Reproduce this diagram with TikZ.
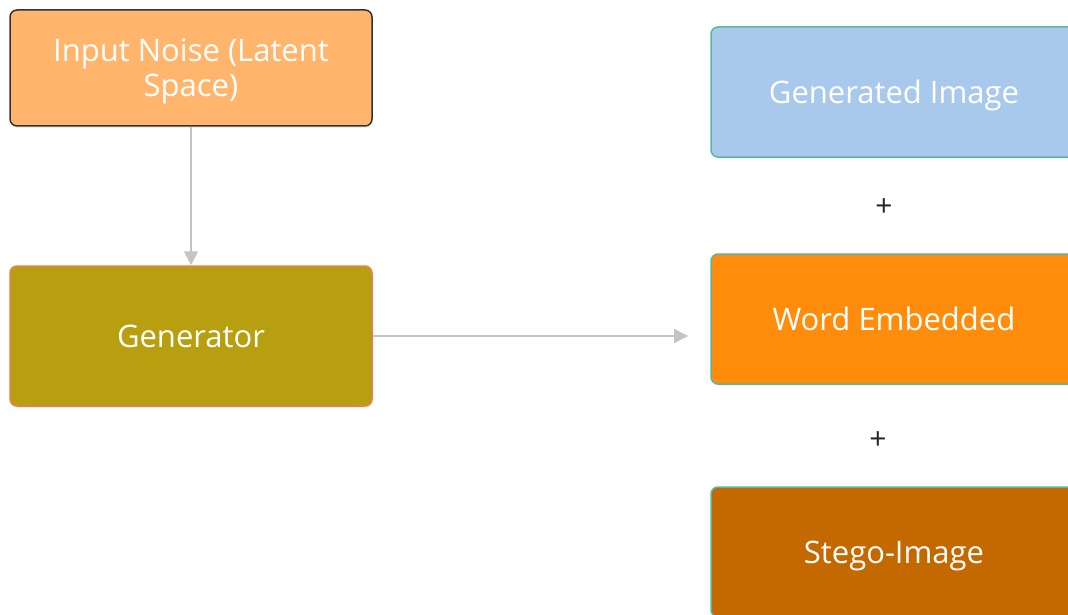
\documentclass[tikz,border=0pt]{standalone}
\usepackage{fontspec}
\setmainfont{Open Sans}
\usetikzlibrary{arrows.meta,shadows}
\definecolor{noisefill}{HTML}{FFB56B}
\definecolor{genfill}{HTML}{B89F10}
\definecolor{imgfill}{HTML}{A9C9EC}
\definecolor{wordfill}{HTML}{FF8C0B}
\definecolor{stegofill}{HTML}{C46800}
\definecolor{tealline}{HTML}{5BB5A0}
\definecolor{genline}{HTML}{E8804A}
\definecolor{arrowgray}{HTML}{C4C4C4}
\begin{document}
\begin{tikzpicture}[x=1pt, y=-1pt,
    box/.style={draw, rounded corners=7pt, line width=1.5pt, text=white,
        align=center, font=\fontsize{31}{35}\selectfont, inner sep=0pt,
        text depth=0pt,
        drop shadow={opacity=0.12, shadow xshift=1pt, shadow yshift=-2pt}},
    plus/.style={font=\fontsize{30}{32}\selectfont, text=black!85},
    flow/.style={draw=arrowgray, line width=1.5pt,
        -{Triangle[length=14pt, width=14pt]}}]
    \useasboundingbox (0,0) rectangle (1068,615);
    \clip (0,0) rectangle (1068,615);
    \path (191,68) node[box, fill=noisefill, draw=black!80,
            minimum width=362pt, minimum height=116pt](noise){Input Noise (Latent\\Space)}
        (191,336) node[box, fill=genfill, draw=genline,
            minimum width=362pt, minimum height=140pt](gen){Generator}
        (894,92) node[box, fill=imgfill, draw=tealline,
            minimum width=366pt, minimum height=130pt](img){Generated Image}
        (894,319) node[box, fill=wordfill, draw=tealline,
            minimum width=366pt, minimum height=130pt](word){Word Embedded}
        (894,552) node[box, fill=stegofill, draw=tealline,
            minimum width=366pt, minimum height=130pt](stego){Stego-Image}
        (884,208) node[plus](plusA){+}
        (878,441) node[plus](plusB){+}
        (688,336) coordinate(genend);
    \draw[flow] (noise.south) -- (gen.north);
    \draw[flow] (gen.east) -- (genend);
\end{tikzpicture}
\end{document}
